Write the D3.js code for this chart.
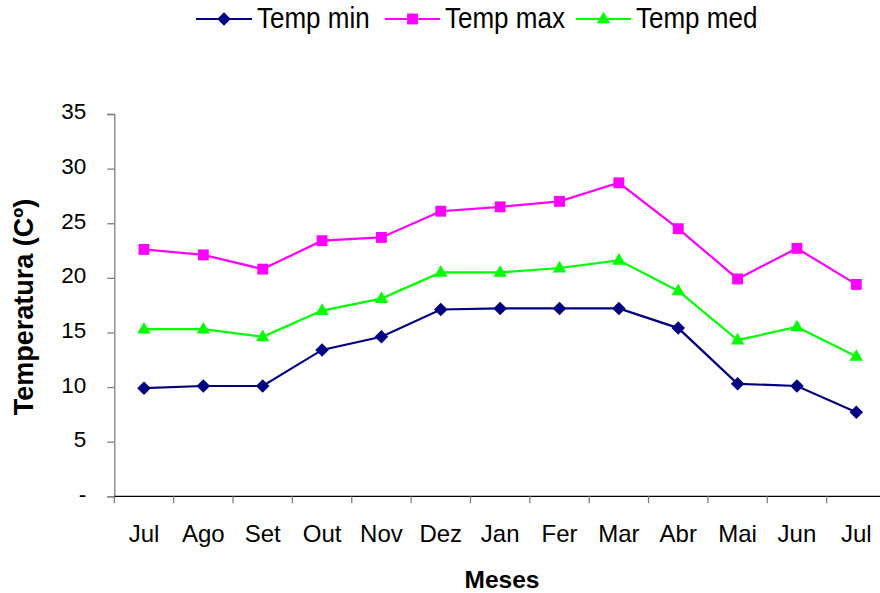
<!DOCTYPE html>
<html>
<head>
<meta charset="utf-8">
<script src="https://cdn.jsdelivr.net/npm/d3@7"></script>
<style>
  html, body { margin: 0; padding: 0; background: #fff; }
  svg { display: block; font-family: Arial, "Liberation Sans", sans-serif; }
</style>
</head>
<body>
<svg id="chart" width="880" height="593"></svg>
<script>
const months = ["Jul","Ago","Set","Out","Nov","Dez","Jan","Fer","Mar","Abr","Mai","Jun","Jul"];
const tempMin = [9.9, 10.1, 10.1, 13.4, 14.6, 17.1, 17.2, 17.2, 17.2, 15.4, 10.3, 10.1, 7.7];
const tempMax = [22.6, 22.1, 20.8, 23.4, 23.7, 26.1, 26.5, 27.0, 28.7, 24.5, 19.9, 22.7, 19.4];
const tempMed = [15.3, 15.3, 14.6, 17.0, 18.1, 20.5, 20.5, 20.9, 21.6, 18.8, 14.3, 15.5, 12.8];
const yTicks = [0, 5, 10, 15, 20, 25, 30, 35];
const seriesNames = ["Temp min", "Temp max", "Temp med"];

const series = [
  { name: seriesNames[0], values: tempMin, color: "#000080", symbol: "diamond" },
  { name: seriesNames[1], values: tempMax, color: "#FF00FF", symbol: "square" },
  { name: seriesNames[2], values: tempMed, color: "#00FF00", symbol: "triangle" }
];

const svg = d3.select("#chart");
const pLeft = 114.3, pRight = 886, pTop = 114, pBottom = 496.3;

const x = d3.scaleBand().domain(d3.range(months.length)).range([pLeft, pRight]).padding(0);
const y = d3.scaleLinear().domain([0, 35]).range([pBottom, pTop]);
const cx = i => x(i) + x.bandwidth() / 2;

function symbolPath(kind) {
  if (kind === "diamond") return d3.symbol(d3.symbolSquare, 92)();
  if (kind === "square") return d3.symbol(d3.symbolSquare, 118)();
  return d3.symbol(d3.symbolTriangle, 78)();
}
function symbolTransform(kind, px, py) {
  if (kind === "diamond") return `translate(${px},${py}) rotate(45)`;
  if (kind === "triangle") return `translate(${px},${py + 0.5})`;
  return `translate(${px},${py})`;
}

// Y axis
const yAxis = d3.axisLeft(y).tickValues(yTicks).tickSize(7).tickPadding(21)
  .tickFormat(d => d === 0 ? "-" : d);
const gy = svg.append("g").attr("transform", `translate(${pLeft},0)`).call(yAxis);
gy.select(".domain").attr("stroke", "#808080").attr("stroke-width", 1.3);
gy.selectAll(".tick line").attr("stroke", "#808080").attr("stroke-width", 1.3);
gy.selectAll(".tick text").attr("font-size", 22.5).attr("fill", "#000")
  .attr("font-family", "Arial, 'Liberation Sans', sans-serif").attr("dy", "0.22em");

// X axis
const xAxis = d3.axisBottom(x).tickSize(0).tickPadding(0).tickFormat(i => months[i]);
const gx = svg.append("g").attr("transform", `translate(0,${pBottom})`).call(xAxis);
gx.select(".domain").remove();
gx.selectAll(".tick text").attr("font-size", 24).attr("fill", "#000")
  .attr("font-family", "Arial, 'Liberation Sans', sans-serif").attr("dy", 0).attr("y", 46);
svg.append("line").attr("x1", pLeft).attr("x2", pRight).attr("y1", pBottom).attr("y2", pBottom)
  .attr("stroke", "#000").attr("stroke-width", 1.3);
svg.append("g").selectAll("line").data(d3.range(months.length + 1)).join("line")
  .attr("x1", i => i < months.length ? x(i) : pRight)
  .attr("x2", i => i < months.length ? x(i) : pRight)
  .attr("y1", pBottom).attr("y2", pBottom + 7)
  .attr("stroke", "#808080").attr("stroke-width", 1.3);

// Axis titles
svg.append("text").attr("x", 502).attr("y", 588).attr("text-anchor", "middle")
  .attr("font-size", 24.5).attr("font-weight", "bold").text("Meses");
svg.append("text").attr("transform", "translate(33,307) rotate(-90)").attr("text-anchor", "middle")
  .attr("font-size", 27).attr("font-weight", "bold").text("Temperatura (Cº)");

// Lines and markers
const line = d3.line().x((d, i) => cx(i)).y(d => y(d));
series.forEach(s => {
  svg.append("path").datum(s.values).attr("d", line)
    .attr("fill", "none").attr("stroke", s.color).attr("stroke-width", 2.2);
  svg.append("g").selectAll("path").data(s.values).join("path")
    .attr("d", symbolPath(s.symbol))
    .attr("transform", (d, i) => symbolTransform(s.symbol, cx(i), y(d)))
    .attr("fill", s.color);
});

// Legend
const legendPos = [{ x0: 196, x1: 252, tx: 257 }, { x0: 385, x1: 440, tx: 445 }, { x0: 576, x1: 631, tx: 636 }];
const ly = 19;
series.forEach((s, k) => {
  const p = legendPos[k];
  svg.append("line").attr("x1", p.x0).attr("x2", p.x1).attr("y1", ly).attr("y2", ly)
    .attr("stroke", s.color).attr("stroke-width", 2.2);
  svg.append("path").attr("d", symbolPath(s.symbol))
    .attr("transform", symbolTransform(s.symbol, (p.x0 + p.x1) / 2, ly)).attr("fill", s.color);
  svg.append("text").attr("transform", `translate(${p.tx},28) scale(1,1.1)`)
    .attr("font-size", 26).attr("fill", "#000").text(s.name);
});
</script>
</body>
</html>
